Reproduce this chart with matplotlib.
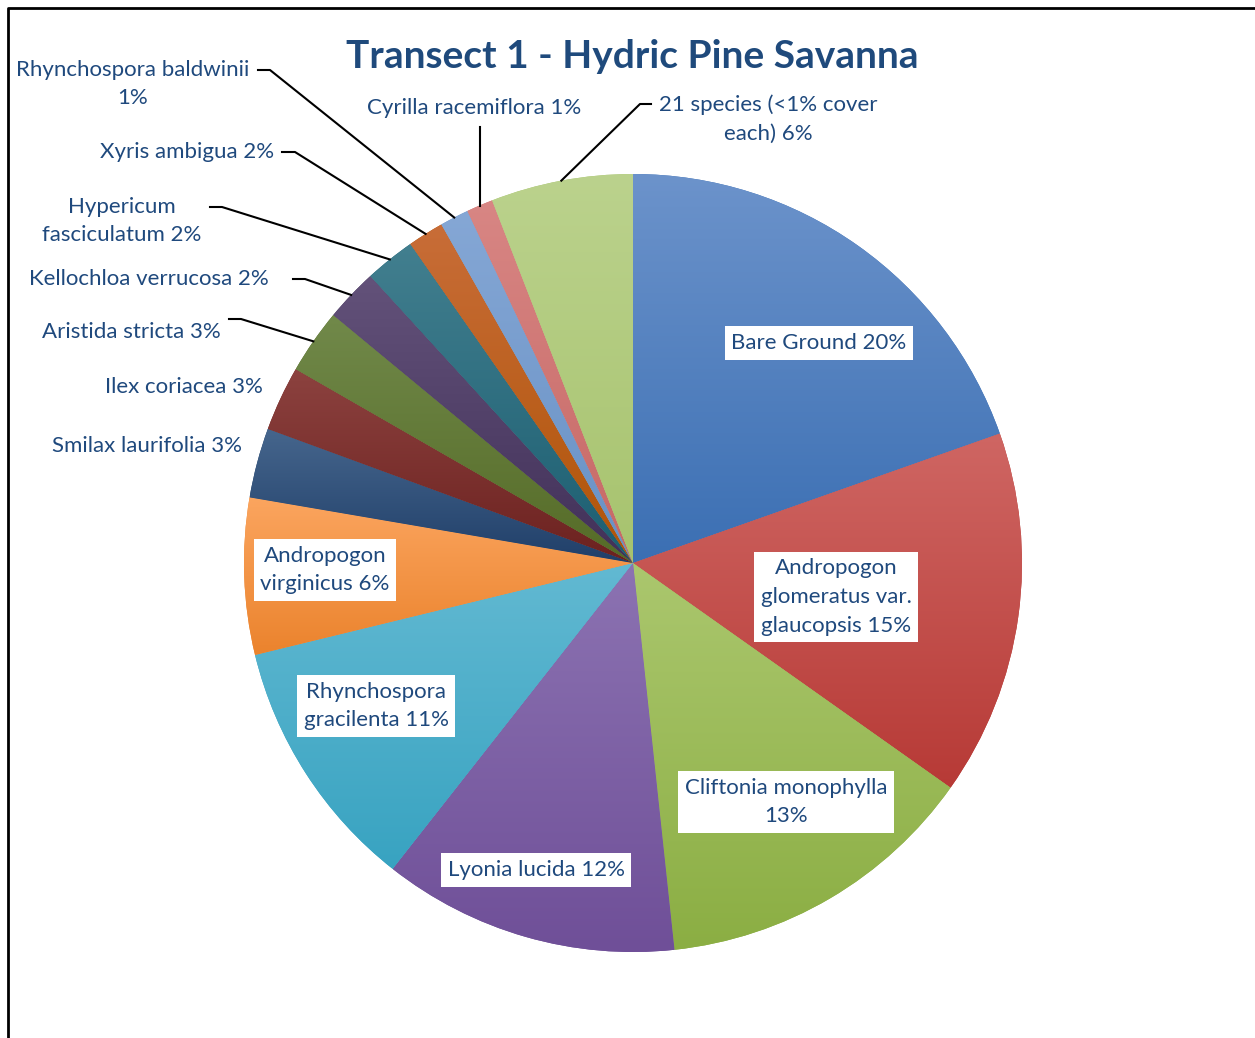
import numpy as np
import matplotlib.pyplot as plt
from matplotlib.colors import LinearSegmentedColormap

plt.rcParams['font.family'] = ['Lato', 'DejaVu Sans']

# percent cover, clockwise from 12 o'clock
species = ['Bare Ground', 'Andropogon glomeratus var. glaucopsis',
           'Cliftonia monophylla', 'Lyonia lucida', 'Rhynchospora gracilenta',
           'Andropogon virginicus', 'Smilax laurifolia', 'Ilex coriacea',
           'Aristida stricta', 'Kellochloa verrucosa', 'Hypericum fasciculatum',
           'Xyris ambigua', 'Rhynchospora baldwinii', 'Cyrilla racemiflora',
           '21 species (<1% cover each)']
cover = [19.6, 15.2, 13.5, 12.3, 10.6, 6.5, 2.9, 2.7, 2.7, 2.2, 2.1, 1.5, 1.2, 1.1, 5.9]
labels = ['Bare Ground 20%', 'Andropogon\nglomeratus var.\nglaucopsis 15%',
          'Cliftonia monophylla\n13%', 'Lyonia lucida 12%',
          'Rhynchospora\ngracilenta 11%', 'Andropogon\nvirginicus 6%',
          'Smilax laurifolia 3%', 'Ilex coriacea 3%', 'Aristida stricta 3%',
          'Kellochloa verrucosa 2%', 'Hypericum\nfasciculatum 2%',
          'Xyris ambigua 2%', 'Rhynchospora baldwinii\n1%',
          'Cyrilla racemiflora 1%', '21 species (<1% cover\neach) 6%']
light = ['#6C93CB', '#CF6663', '#ABC76E', '#8C73B2', '#62B9D2', '#FBA55F',
         '#46668D', '#8C423F', '#71894A', '#63527A', '#427F8F', '#C86D38',
         '#85A7D5', '#D88684', '#BBD28D']
dark = ['#3B6FB3', '#B73A36', '#8BAE43', '#6F4F98', '#38A3C1', '#EB832D',
        '#203F69', '#6C211F', '#556B27', '#413058', '#1C5E71', '#B05407',
        '#6891C5', '#C66865', '#A7C36E']

W, H = 1255, 1038
txt = '#1F497D'

fig = plt.figure(figsize=(W / 100, H / 100), dpi=100)
ax = fig.add_axes([0, 0, 1, 1])

cx, cy, r = 633, H - 563, 389
wedges, _ = ax.pie(cover, startangle=90, counterclock=False, center=(cx, cy),
                   radius=r, colors=dark, wedgeprops=dict(linewidth=0))

# vertical gradient per slice, light on top
grad = np.linspace(0, 1, 256).reshape(-1, 1)
for w, c0, c1 in zip(wedges, light, dark):
    bb = w.get_path().get_extents()
    cm = LinearSegmentedColormap.from_list('g', [c1, c0])
    im = ax.imshow(grad, cmap=cm, extent=[bb.x0, bb.x1, bb.y0, bb.y1],
                   origin='lower', aspect='auto', zorder=1, interpolation='bilinear')
    im.set_clip_path(w)

ax.set_xlim(0, W)
ax.set_ylim(0, H)
ax.set_aspect('equal')
ax.axis('off')

fs = 16
ls = 1.55
box = dict(boxstyle='square,pad=0.3', fc='white', ec='none')

# labels inside the big slices (pixel centres)
inner_xy = [(819, 343), (836, 597), (786, 802), (536, 870), (376, 706), (325, 570)]
for i, (x, y) in enumerate(inner_xy):
    ax.text(x, H - y, labels[i], ha='center', va='center', fontsize=fs,
            color=txt, linespacing=ls, bbox=box, zorder=5)


def edge(i):
    w = wedges[i]
    a = np.deg2rad((w.theta1 + w.theta2) / 2)
    return cx + r * np.cos(a), cy + r * np.sin(a)


# outer labels: (index, text x, text y, ha, leader start, leader elbow)
outer = [
    (6, 242, 446, 'right', None, None),
    (7, 263, 387, 'right', None, None),
    (8, 221, 332, 'right', (229, 319), (241, 319)),
    (9, 269, 279, 'right', (293, 279), (305, 279)),
    (10, 122, 221, 'center', (210, 207), (222, 207)),
    (11, 274, 152, 'right', (282, 152), (295, 152)),
    (12, 133, 84, 'center', (258, 70), (270, 70)),
    (13, 474, 108, 'center', None, None),
    (14, 768, 119, 'center', (651, 104), (640, 104)),
]
for i, x, y, ha, p0, p1 in outer:
    ax.text(x, H - y, labels[i], ha=ha, va='center', fontsize=fs, color=txt,
            linespacing=ls, zorder=5)
    ex, ey = edge(i)
    if p0 is not None:
        ax.plot([p0[0], p1[0], ex], [H - p0[1], H - p1[1], ey], color='black',
                lw=1.5, zorder=4)
    elif i == 13:
        ax.plot([ex, ex], [H - 127, ey], color='black', lw=1.5, zorder=4)

ax.text(632, H - 57, 'Transect 1 - Hydric Pine Savanna', ha='center',
        va='center', fontsize=28, fontweight='bold', color='#1F4A7C')

# outer frame of the chart area
ax.plot([8, 8, W + 5], [-5, H - 8, H - 8], color='black', lw=2, clip_on=False,
        zorder=6)

fig.savefig('out.png', dpi=100)
